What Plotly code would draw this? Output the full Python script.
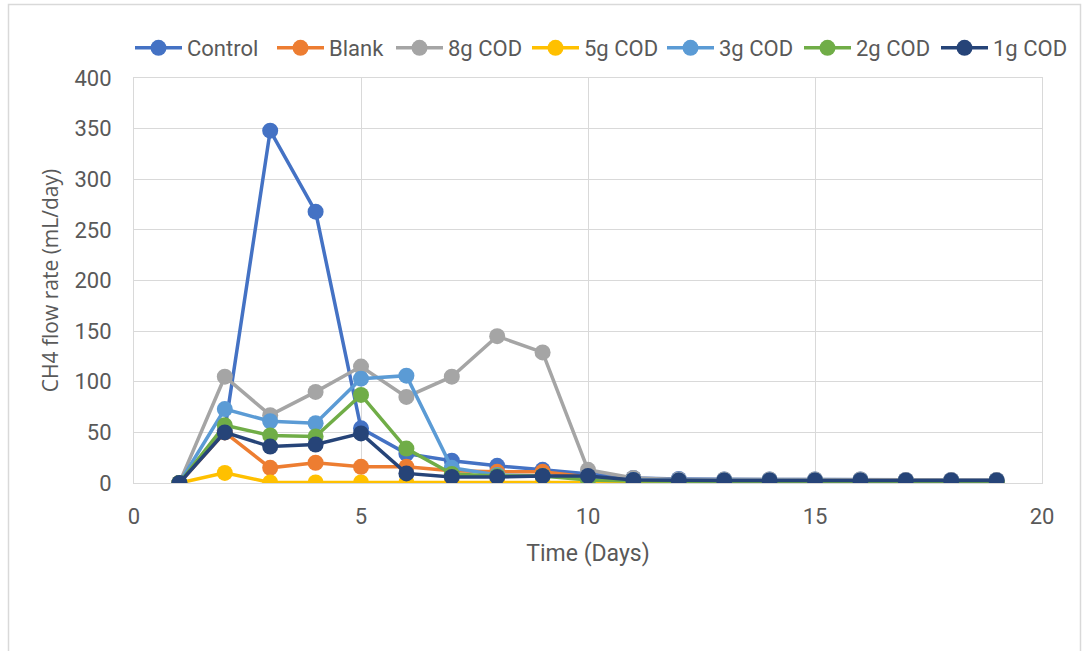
import plotly.graph_objects as go

days = list(range(1, 20))

series_names = ["Control", "Blank", "8g COD", "5g COD", "3g COD", "2g COD", "1g COD"]
series_colors = ["#4472C4", "#ED7D31", "#A5A5A5", "#FFC000", "#5B9BD5", "#70AD47", "#264478"]

control = [0, 52, 348, 268, 54, 29, 22, 17, 13, 9, 5, 4, 3.5, 3.5, 3.5, 3.5, 3, 3, 3]
blank = [0, 50, 15, 20, 16, 16, 12, 11, 11, 6, 3, 2.5, 2.5, 2.5, 2.5, 2.5, 2, 2, 2]
cod8 = [0, 105, 67, 90, 115, 85, 105, 145, 129, 13, 5, 3.5, 3.5, 3.5, 3.5, 3.5, 3, 3, 3]
cod5 = [0, 10, 0.5, 0.5, 0.5, 0.5, 0.5, 0.5, 0.5, 0.5, 0.5, 0.5, 0.5, 0.5, 0.5, 0.5, 0.5, 0.5, 0.5]
cod3 = [0, 73, 61, 59, 103, 106, 15, 8, 7, 5, 3, 2.5, 2.5, 2.5, 2.5, 2.5, 2, 2, 2]
cod2 = [0, 57, 47, 46, 87, 34, 9, 7, 7, 3, 2, 1.5, 1.5, 1.5, 1.5, 1.5, 1.5, 1.5, 1.5]
cod1 = [0, 50, 36, 38, 49, 9.5, 6, 6, 7, 7, 3, 2.5, 2.5, 2.5, 2.5, 2.5, 2.5, 2.5, 2.5]

series_values = [control, blank, cod8, cod5, cod3, cod2, cod1]

x_ticks = [0, 5, 10, 15, 20]
y_ticks = [0, 50, 100, 150, 200, 250, 300, 350, 400]

W, H = 1084, 651
legend_text_x = [187, 329, 448, 584, 719, 856, 993]

FONT = "Roboto, Liberation Sans, Arial, sans-serif"
GRAY = "#595959"
GRID = "#D9D9D9"

fig = go.Figure()
for i, (name, color, vals) in enumerate(zip(series_names, series_colors, series_values)):
    lg = "legend" if i == 0 else f"legend{i+1}"
    fig.add_trace(go.Scatter(
        x=days, y=vals, name=name, mode="lines+markers",
        line=dict(color=color, width=3.5),
        marker=dict(color=color, size=16),
        legend=lg,
    ))

ITEMW = 47
layout_legends = {}
for i, tx in enumerate(legend_text_x):
    key = "legend" if i == 0 else f"legend{i+1}"
    layout_legends[key] = dict(
        xref="container", yref="container",
        x=(tx - ITEMW - 10) / W, y=1 - 48 / H,
        xanchor="left", yanchor="middle",
        orientation="h",
        itemwidth=ITEMW,
        font=dict(family=FONT, size=22, color=GRAY),
        bgcolor="rgba(0,0,0,0)",
        borderwidth=0,
    )

fig.update_layout(
    width=W, height=H,
    margin=dict(l=134, r=42, t=78, b=168, autoexpand=False),
    paper_bgcolor="white",
    plot_bgcolor="white",
    font=dict(family=FONT, size=22, color=GRAY),
    showlegend=True,
    **layout_legends,
    xaxis=dict(
        range=[0, 20], tickvals=x_ticks, ticktext=[str(v) for v in x_ticks],
        showgrid=True, gridcolor=GRID, gridwidth=1,
        showline=True, linecolor=GRID, linewidth=1, mirror=True,
        zeroline=False, ticks="",
        tickfont=dict(family=FONT, size=22, color=GRAY),
        ticklabelstandoff=14,
        title=dict(text="Time (Days)", font=dict(family=FONT, size=23, color=GRAY), standoff=16),
    ),
    yaxis=dict(
        range=[0, 400], tickvals=y_ticks, ticktext=[str(v) for v in y_ticks],
        showgrid=True, gridcolor=GRID, gridwidth=1,
        showline=True, linecolor=GRID, linewidth=1, mirror=True,
        zeroline=False, ticks="",
        tickfont=dict(family=FONT, size=22, color=GRAY),
        ticklabelstandoff=17,
        title=dict(text="CH4 flow rate (mL/day)", font=dict(family="Open Sans, sans-serif", size=21, color=GRAY), standoff=10),
    ),
    shapes=[dict(type="rect", xref="paper", yref="paper", x0=-(134 - 8.5) / 908, x1=1 + (1080.5 - 1042) / 908,
                 y0=-(651 - 483 + 30) / 405, y1=1 + (78 - 4.5) / 405,
                 line=dict(color=GRID, width=1.5), fillcolor="rgba(0,0,0,0)", layer="below")],
)

fig.write_html("out.html")
